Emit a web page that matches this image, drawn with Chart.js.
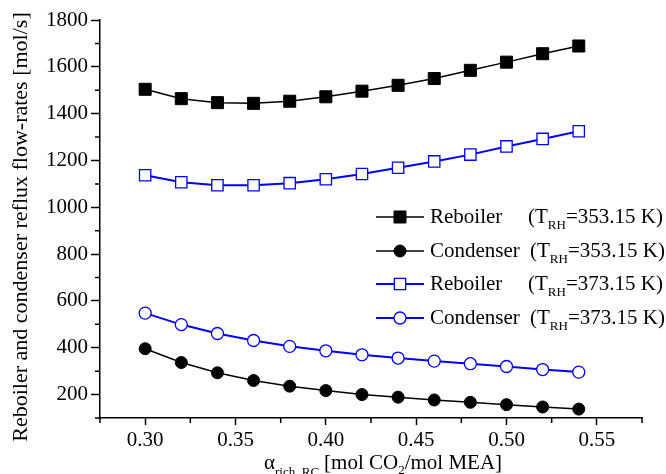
<!DOCTYPE html>
<html>
<head>
<meta charset="utf-8">
<script src="https://cdn.jsdelivr.net/npm/chart.js@4.4.0/dist/chart.umd.min.js"></script>
<style>
  html, body { margin: 0; padding: 0; background: #fff; }
  #wrap { width: 666px; height: 474px; }
</style>
</head>
<body>
<div id="wrap"><canvas id="myChart" width="666" height="474"></canvas></div>
<script>
// x values (alpha rich RC)
const alpha = [0.30, 0.32, 0.34, 0.36, 0.38, 0.40, 0.42, 0.44, 0.46, 0.48, 0.50, 0.52, 0.54];
// flow rates [mol/s]
const reboiler353 = [1504, 1464, 1447, 1444, 1453, 1472, 1496, 1521, 1550, 1585, 1620, 1656, 1689];
const condenser353 = [396, 337, 293, 260, 236, 217, 200, 189, 177, 167, 157, 147, 138];
const reboiler373 = [1137, 1107, 1094, 1094, 1103, 1120, 1142, 1169, 1196, 1225, 1260, 1292, 1325];
const condenser373 = [548, 499, 461, 431, 406, 387, 370, 356, 343, 332, 320, 307, 296];
const legendNames = ['Reboiler', 'Condenser', 'Reboiler', 'Condenser'];
const legendTemps = ['=353.15 K)', '=353.15 K)', '=373.15 K)', '=373.15 K)'];

const FONT = "'Liberation Serif', 'Times New Roman', serif";
Chart.defaults.font.family = FONT;
Chart.defaults.font.size = 21;
Chart.defaults.color = '#000';

function pts(ys) {
    return alpha.map((x, i) => ({ x: x, y: ys[i] }));
}

function isMajor(v, step) {
    return Math.abs(Math.round(v / step) * step - v) < 1e-6;
}

const datasets = [
    { label: legendNames[0], data: pts(reboiler353), borderColor: '#000', backgroundColor: '#000',
      borderWidth: 1.5, pointStyle: 'rect', pointRadius: 8.5, pointBorderWidth: 1, pointBackgroundColor: '#000' },
    { label: legendNames[1], data: pts(condenser353), borderColor: '#000', backgroundColor: '#000',
      borderWidth: 1.5, pointStyle: 'circle', pointRadius: 6, pointBorderWidth: 1, pointBackgroundColor: '#000' },
    { label: legendNames[2], data: pts(reboiler373), borderColor: '#0000ff', backgroundColor: '#fff',
      borderWidth: 2, pointStyle: 'rect', pointRadius: 8, pointBorderWidth: 1.3, pointBackgroundColor: '#fff' },
    { label: legendNames[3], data: pts(condenser373), borderColor: '#0000ff', backgroundColor: '#fff',
      borderWidth: 2, pointStyle: 'circle', pointRadius: 6, pointBorderWidth: 1.3, pointBackgroundColor: '#fff' }
];

// minor ticks, titles and the legend
const extras = {
    id: 'extras',
    afterDraw(chart) {
        const ctx = chart.ctx;
        const xs = chart.scales.x, ys = chart.scales.y;
        ctx.save();
        ctx.strokeStyle = '#000';
        ctx.lineWidth = 1.5;
        // minor ticks
        ctx.beginPath();
        xs.ticks.forEach(t => {
            if (!isMajor(t.value, 0.05)) {
                const px = xs.getPixelForValue(t.value);
                ctx.moveTo(px, xs.top); ctx.lineTo(px, xs.top + 5);
            }
        });
        ys.ticks.forEach(t => {
            if (!isMajor(t.value, 200)) {
                const py = ys.getPixelForValue(t.value);
                ctx.moveTo(ys.right, py); ctx.lineTo(ys.right - 5, py);
            }
        });
        ctx.stroke();

        ctx.fillStyle = '#000';
        // y title
        ctx.save();
        ctx.translate(21, 227);
        ctx.rotate(-Math.PI / 2);
        ctx.font = '22px ' + FONT;
        ctx.textAlign = 'center';
        ctx.textBaseline = 'middle';
        ctx.fillText('Reboiler and condenser reflux flow-rates [mol/s]', 0, 0);
        ctx.restore();

        // x title with subscripts
        ctx.textAlign = 'left';
        ctx.textBaseline = 'alphabetic';
        let x = 264, base = 469;
        ctx.font = '21px ' + FONT;
        ctx.fillText('\u03b1', x, base);
        x += ctx.measureText('\u03b1').width;
        ctx.font = '13px ' + FONT;
        ctx.fillText('rich_RC', x, base + 7);
        x += ctx.measureText('rich_RC').width + 5;
        ctx.font = '21px ' + FONT;
        ctx.fillText('[mol CO', x, base);
        x += ctx.measureText('[mol CO').width;
        ctx.font = '13px ' + FONT;
        ctx.fillText('2', x, base + 5);
        x += ctx.measureText('2').width;
        ctx.font = '21px ' + FONT;
        ctx.fillText('/mol MEA]', x, base);

        // legend
        const rowY = [217, 251, 284, 318];
        chart.data.datasets.forEach((ds, i) => {
            const y = rowY[i];
            ctx.strokeStyle = ds.borderColor;
            ctx.lineWidth = ds.borderWidth;
            ctx.beginPath();
            ctx.moveTo(376, y); ctx.lineTo(424, y);
            ctx.stroke();
            ctx.fillStyle = ds.pointBackgroundColor;
            ctx.lineWidth = ds.pointBorderWidth;
            Chart.helpers.drawPoint(ctx, { pointStyle: ds.pointStyle, radius: ds.pointRadius, borderWidth: ds.pointBorderWidth, rotation: 0 }, 400, y);
            ctx.fillStyle = '#000';
            ctx.font = '21px ' + FONT;
            ctx.textBaseline = 'middle';
            ctx.fillText(ds.label, 430, y);
            let tx = (i % 2 === 0) ? 528 : 530;
            ctx.fillText('(T', tx, y);
            tx += ctx.measureText('(T').width;
            ctx.font = '13px ' + FONT;
            ctx.fillText('RH', tx, y + 9);
            tx += ctx.measureText('RH').width;
            ctx.font = '21px ' + FONT;
            ctx.fillText(legendTemps[i], tx, y);
        });
        ctx.restore();
    }
};

const config = {
    type: 'line',
    data: { datasets: datasets },
    options: {
        responsive: false,
        animation: false,
        layout: { padding: { top: 20, right: 24, bottom: 0, left: 0 } },
        plugins: { legend: { display: false }, tooltip: { enabled: false } },
        scales: {
            x: {
                type: 'linear',
                min: 0.275,
                max: 0.575,
                border: { display: true, color: '#000', width: 1.5 },
                grid: {
                    drawOnChartArea: false,
                    tickLength: 7,
                    tickWidth: 1.5,
                    tickColor: c => isMajor(c.tick.value, 0.05) ? '#000' : 'rgba(0,0,0,0)'
                },
                ticks: {
                    stepSize: 0.025,
                    color: '#000',
                    padding: 3,
                    maxRotation: 0,
                    autoSkip: false,
                    font: { family: FONT, size: 21 },
                    callback: v => isMajor(v, 0.05) ? v.toFixed(2) : ''
                },
                afterFit: s => { s.height = 56; }
            },
            y: {
                min: 100,
                max: 1800,
                border: { display: true, color: '#000', width: 1.5 },
                grid: {
                    drawOnChartArea: false,
                    tickLength: 9,
                    tickWidth: 1.5,
                    tickColor: c => isMajor(c.tick.value, 200) ? '#000' : 'rgba(0,0,0,0)'
                },
                ticks: {
                    stepSize: 100,
                    color: '#000',
                    padding: 3,
                    autoSkip: false,
                    font: { family: FONT, size: 21 },
                    callback: v => isMajor(v, 200) ? String(v) : ''
                },
                afterFit: s => { s.width = 100; }
            }
        }
    },
    plugins: [extras]
};

const myChart = new Chart(document.getElementById('myChart'), config);
</script>
</body>
</html>
